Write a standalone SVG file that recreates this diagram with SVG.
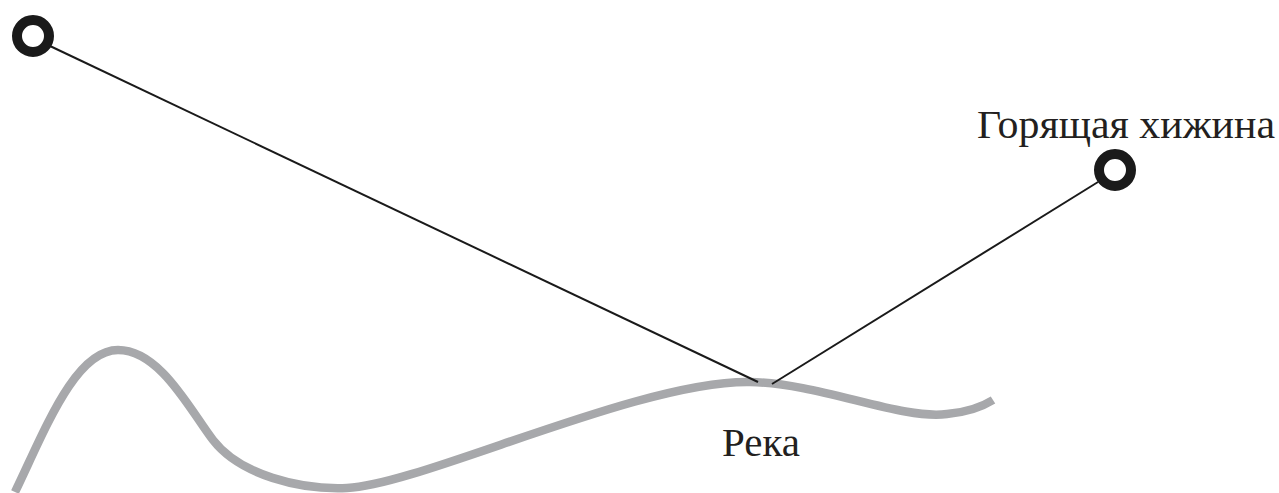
<svg xmlns="http://www.w3.org/2000/svg" width="1279" height="493" viewBox="0 0 1279 493">
  <style>
    .river { fill: none; stroke: #a7a8ab; stroke-width: 8.5; stroke-linecap: butt; }
    .link { fill: none; stroke: #1a1a1a; stroke-width: 2; }
    .point { fill: #ffffff; stroke: #1a1a1a; stroke-width: 10; }
    .label { font-family: "Liberation Serif", "DejaVu Serif", serif; font-size: 41px; fill: #231f20; }
  </style>

  <!-- river line -->
  <g id="river">
    <path class="river" d="M15,492 C45,430 75,350 118,350 C160,350 190,410 213,440 C240,475 300,490 347,488 C420,485 640,380 750,382 C820,383 900,420 947,414 C970,412 985,405 993,400"/>
    <text class="label" x="722" y="456" textLength="78" lengthAdjust="spacingAndGlyphs">Река</text>
  </g>

  <!-- sight lines meeting on the river -->
  <g id="connectors">
    <line class="link" x1="50" y1="46" x2="758" y2="382"/>
    <line class="link" x1="1098" y1="182" x2="772" y2="384"/>
  </g>

  <g id="start-point">
    <circle class="point" cx="33" cy="36" r="16"/>
  </g>

  <g id="burning-hut">
    <circle class="point" cx="1115" cy="170" r="16"/>
    <text class="label" x="977" y="138" textLength="298" lengthAdjust="spacingAndGlyphs">Горящая хижина</text>
  </g>
</svg>
